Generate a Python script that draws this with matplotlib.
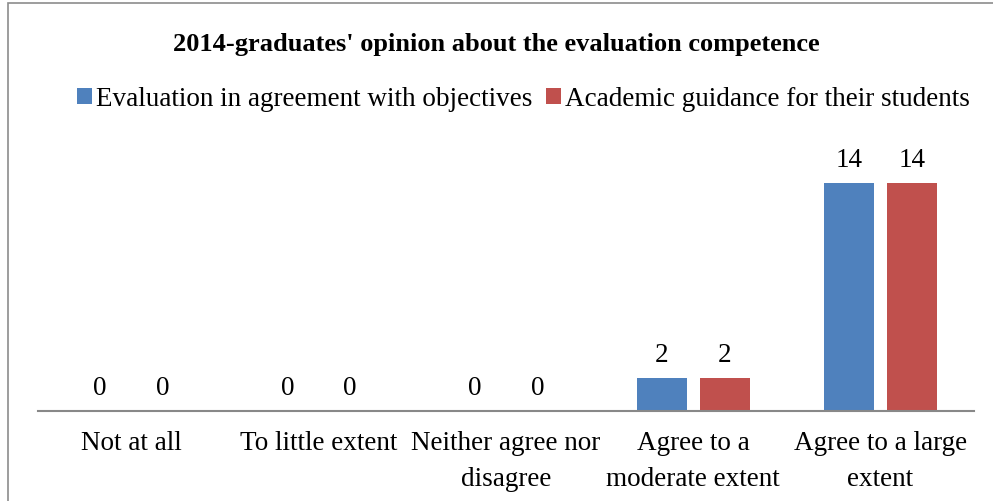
import numpy as np
import matplotlib.pyplot as plt
from matplotlib.patches import Rectangle

plt.rcParams['font.family'] = ['Liberation Serif', 'DejaVu Serif']

categories = ["Not at all", "To little extent", "Neither agree nor\ndisagree",
              "Agree to a\nmoderate extent", "Agree to a large\nextent"]
series_names = ["Evaluation in agreement with objectives",
                "Academic guidance for their students"]
evaluation = [0, 0, 0, 2, 14]
guidance = [0, 0, 0, 2, 14]
colors = ["#4F81BD", "#C0504D"]

W, H = 993, 502
fs = 19.5
fig = plt.figure(figsize=(W / 100, H / 100), dpi=100)

# grey frame around the chart, open at right/bottom like the crop
fig.patches.append(Rectangle((8 / W, -0.5), 2, 1 - 4 / H + 0.5,
                             transform=fig.transFigure, fill=False,
                             edgecolor="#8c8c8c", linewidth=1.2))

ax = fig.add_axes([38 / W, (H - 412) / H, 936 / W, (412 - 151) / H])

x = np.arange(len(categories))
bw = 0.267
off = 0.168
for vals, c, sign, name in [(evaluation, colors[0], -1, series_names[0]),
                            (guidance, colors[1], 1, series_names[1])]:
    bars = ax.bar(x + sign * off, vals, bw, color=c, label=name)
    for b, v in zip(bars, vals):
        ax.annotate(str(v), (b.get_x() + b.get_width() / 2, v),
                    xytext=(0, 17), textcoords="offset points",
                    ha="center", va="center", fontsize=fs)

ax.set_xlim(-0.5, len(categories) - 0.5)
ax.set_ylim(0, 16)
ax.set_xticks(x)
ax.set_xticklabels(categories, fontsize=fs, linespacing=1.55)
ax.tick_params(axis="x", length=0, pad=14)
ax.set_yticks([])
for s in ["top", "right", "left"]:
    ax.spines[s].set_visible(False)
ax.spines["bottom"].set_color("#888888")
ax.spines["bottom"].set_linewidth(1.5)

fig.text(0.5, 1 - 44 / H, "2014-graduates' opinion about the evaluation competence",
         ha="center", va="center", fontsize=19, fontweight="bold")

fig.legend(loc="center", bbox_to_anchor=(0.527, 1 - 100 / H), ncol=2,
           frameon=False, fontsize=fs, handlelength=0.55, handleheight=0.55,
           handletextpad=0.15, columnspacing=0.5, borderaxespad=0)

fig.savefig("out.png", dpi=100)
